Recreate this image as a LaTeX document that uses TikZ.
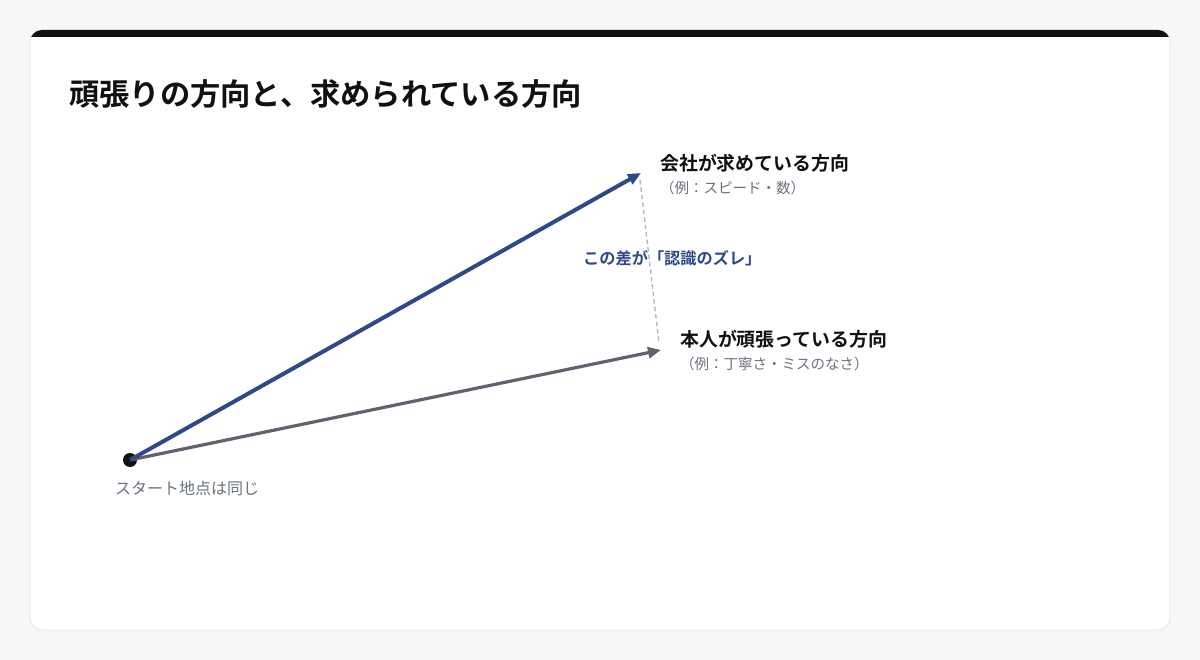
\documentclass[tikz,border=0pt]{standalone}
\usepackage{fontspec}
\setmainfont{Noto Sans CJK JP}[BoldFont={Noto Sans CJK JP Bold}]
\usetikzlibrary{arrows.meta}
\definecolor{bgc}{HTML}{F6F7F9}
\definecolor{cardline}{HTML}{E5E7EB}
\definecolor{ink}{HTML}{111111}
\definecolor{navy}{HTML}{2E4A86}
\definecolor{slate}{HTML}{5E636E}
\definecolor{note}{HTML}{6B7280}
\definecolor{dashc}{HTML}{B3BBCA}
\tikzset{
  lbl/.style={anchor=west,inner sep=0pt,font=\bfseries\fontsize{18.9}{21}\selectfont,text=ink},
  sub/.style={anchor=west,inner sep=0pt,font=\fontsize{14.5}{16}\selectfont,text=note},
  vec/.style={-{Triangle[length=13pt,width=11pt]}},
}
\begin{document}
\begin{tikzpicture}[x=1pt,y=-1pt]
\useasboundingbox (0,0) rectangle (1200,660);
\fill[bgc] (0,0) rectangle (1200,660);
\path[fill=white,draw=cardline,line width=0.8pt,rounded corners=12pt] (30,30) rectangle (1170,630);
\begin{scope}
\clip[rounded corners=12pt] (30,30) rectangle (1170,630);
\fill[ink] (30,29) rectangle (1170,37);
\end{scope}
\node[anchor=west,inner sep=0pt,font=\bfseries\fontsize{30.3}{33}\selectfont,text=ink] (title) at (69,94) {頑張りの方向と、求められている方向};
\node[circle,fill=ink,inner sep=0pt,minimum size=14pt] (start) at (130,460) {};
\coordinate (ctip) at (641,173);
\coordinate (ptip) at (661,350);
\draw[dashc,line width=1.4pt,dash pattern=on 4.5pt off 3pt] (640,180) -- (659,343);
\draw[vec,slate,line width=3.2pt] (start.center) -- (ptip);
\draw[vec,navy,line width=4pt] (start.center) -- (ctip);
\node[lbl] (company) at (660,163) {会社が求めている方向};
\node[sub] (companyex) at (660,188) {（例：スピード・数）};
\node[lbl] (self) at (680,339) {本人が頑張っている方向};
\node[sub] (selfex) at (680,364) {（例：丁寧さ・ミスのなさ）};
\node[anchor=west,inner sep=0pt,font=\bfseries\fontsize{16.2}{18}\selectfont,text=navy] (gap) at (583,258) {この差が「認識のズレ」};
\node[anchor=west,inner sep=0pt,font=\fontsize{16}{18}\selectfont,text=note] (startlbl) at (115,488) {スタート地点は同じ};
\end{tikzpicture}
\end{document}
